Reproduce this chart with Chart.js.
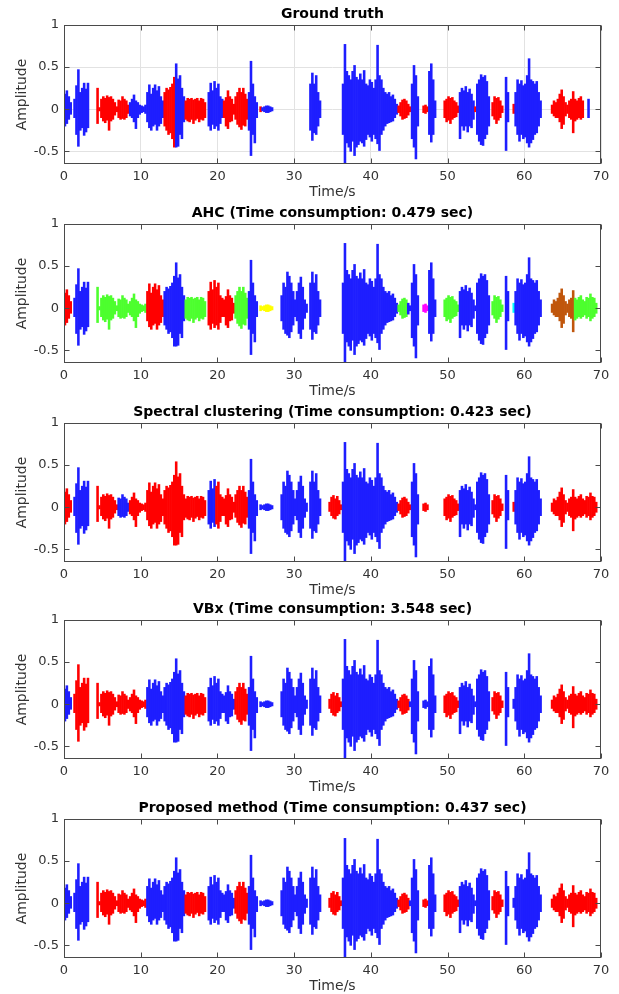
<!DOCTYPE html>
<html><head><meta charset="utf-8">
<script src="https://cdn.jsdelivr.net/npm/chart.js@4.4.1/dist/chart.umd.min.js"></script>
<style>
html,body{margin:0;padding:0;background:#fff;}
#wrap{position:relative;width:619px;height:994px;overflow:hidden;background:#fff;}
#wrap canvas{position:absolute;left:0;}
</style></head><body><div id="wrap"></div>
<script>
// ---------- DATA ----------
const binWidth = 0.25; // seconds per envelope bin
// waveform peak envelope (upper) per 0.25 s bin
const envHigh = [
 0.18,0.22,0.15,0.08,null,0.12,0.28,0.47,0.2,0.25,0.31,0.24,0.31,null,null,null,null,0.25,0.02,0.12,
 0.15,0.13,0.16,0.14,0.15,0.12,0.08,0.03,0.11,0.1,0.15,0.12,0.1,0.05,0.08,0.12,0.17,0.1,0.08,0.05,
 0.04,0.03,0.05,0.2,0.29,0.18,0.25,0.29,0.22,0.27,0.15,0.1,0.2,0.25,0.23,0.26,0.3,0.38,0.54,0.36,
 0.4,0.25,0.15,0.1,0.13,0.12,0.13,0.11,0.12,0.13,0.1,0.13,0.12,0.08,null,0.2,0.31,0.22,0.33,0.25,
 0.3,0.15,0.12,0.1,0.14,0.22,0.15,0.12,0.06,0.15,0.2,0.25,0.2,0.25,0.18,0.12,0.2,0.57,0.3,0.15,
 0.08,null,0.03,0.02,0.03,0.04,0.04,0.03,0.02,null,null,null,null,0.15,0.3,0.25,0.43,0.38,0.3,0.2,
 0.1,0.2,0.3,0.37,0.25,0.1,0.05,null,0.3,0.43,0.3,0.4,0.2,0.1,null,null,null,null,0.06,0.12,
 0.14,0.1,0.13,0.08,0.03,0.3,0.77,0.45,0.4,0.35,0.45,0.52,0.38,0.35,0.42,0.35,0.46,0.3,0.28,0.35,
 0.32,0.25,0.35,0.76,0.4,0.35,0.25,0.2,0.18,0.2,0.15,0.17,0.12,0.06,0.04,0.08,0.11,0.12,0.1,0.06,
 0.03,0.3,0.52,0.4,0.15,null,null,0.04,0.05,0.03,0.45,0.54,0.35,0.1,null,null,null,null,0.1,0.12,
 0.15,0.13,0.14,0.1,0.08,0.04,0.2,0.25,0.22,0.27,0.2,0.24,0.18,0.1,0.03,0.3,0.35,0.41,0.38,0.4,
 0.33,0.15,null,0.08,0.15,0.13,0.14,0.1,0.04,null,0.38,0.2,null,null,0.06,0.2,0.35,0.3,0.34,0.28,
 0.3,0.4,0.6,0.35,0.33,0.3,0.33,0.2,0.1,null,null,null,null,null,0.05,0.1,0.08,0.12,0.18,0.23,
 0.15,0.08,0.05,0.1,0.12,0.21,0.12,0.1,0.13,0.15,0.1,0.08,0.13,0.12,0.17,0.13,0.12,0.06,null,null
];
// waveform peak envelope (lower) per 0.25 s bin
const envLow = [
 -0.2,-0.17,-0.12,-0.06,null,-0.1,-0.3,-0.44,-0.25,-0.22,-0.31,-0.27,-0.22,null,null,null,null,-0.17,-0.02,-0.1,
 -0.14,-0.16,-0.13,-0.25,-0.14,-0.12,-0.07,-0.03,-0.1,-0.12,-0.11,-0.12,-0.1,-0.05,-0.08,-0.1,-0.15,-0.23,-0.1,-0.06,
 -0.04,-0.03,-0.05,-0.15,-0.22,-0.25,-0.2,-0.18,-0.25,-0.2,-0.17,-0.1,-0.2,-0.25,-0.3,-0.28,-0.35,-0.45,-0.45,-0.44,
 -0.3,-0.35,-0.15,-0.12,-0.14,-0.15,-0.12,-0.17,-0.13,-0.11,-0.15,-0.12,-0.13,-0.1,null,-0.2,-0.25,-0.18,-0.23,-0.2,
 -0.25,-0.17,-0.1,-0.1,-0.2,-0.23,-0.15,-0.14,-0.06,-0.12,-0.18,-0.21,-0.24,-0.19,-0.2,-0.12,-0.25,-0.55,-0.3,-0.4,
 -0.1,null,-0.03,-0.02,-0.03,-0.04,-0.04,-0.03,-0.02,null,null,null,null,-0.15,-0.25,-0.3,-0.32,-0.35,-0.28,-0.2,
 -0.1,-0.15,-0.3,-0.36,-0.25,-0.12,-0.05,null,-0.25,-0.37,-0.28,-0.3,-0.2,-0.1,null,null,null,null,-0.05,-0.1,
 -0.13,-0.14,-0.1,-0.08,-0.03,-0.3,-0.65,-0.4,-0.45,-0.5,-0.38,-0.55,-0.45,-0.42,-0.38,-0.4,-0.44,-0.36,-0.3,-0.33,
 -0.38,-0.3,-0.35,-0.41,-0.49,-0.3,-0.25,-0.2,-0.17,-0.16,-0.15,-0.14,-0.1,-0.06,-0.04,-0.08,-0.12,-0.11,-0.1,-0.07,
 -0.03,-0.35,-0.45,-0.59,-0.2,null,null,-0.04,-0.05,-0.03,-0.3,-0.39,-0.3,-0.1,null,null,null,null,-0.1,-0.15,
 -0.13,-0.17,-0.12,-0.1,-0.09,-0.04,-0.35,-0.2,-0.25,-0.2,-0.27,-0.2,-0.22,-0.12,-0.03,-0.3,-0.38,-0.42,-0.43,-0.35,
 -0.3,-0.2,null,-0.08,-0.12,-0.17,-0.13,-0.1,-0.04,null,-0.49,-0.15,null,null,-0.05,-0.2,-0.3,-0.38,-0.3,-0.35,
 -0.33,-0.4,-0.45,-0.4,-0.36,-0.3,-0.28,-0.2,-0.1,null,null,null,null,null,-0.05,-0.08,-0.1,-0.1,-0.15,-0.23,
 -0.18,-0.08,-0.05,-0.1,-0.12,-0.28,-0.14,-0.12,-0.1,-0.12,-0.1,-0.08,-0.12,-0.1,-0.15,-0.12,-0.1,-0.06,null,null
];
const xTicks = [0,10,20,30,40,50,60,70];
const yTicks = [-0.5,0,0.5,1];
const panelTitles = [
 'Ground truth',
 'AHC (Time consumption: 0.479 sec)',
 'Spectral clustering (Time consumption: 0.423 sec)',
 'VBx (Time consumption: 3.548 sec)',
 'Proposed method (Time consumption: 0.437 sec)'
];
// speaker segments: [cluster, start s, end s]
const segGroundTruth = [
 ['B',0,1.0],['B',1.25,3.25],['R',4.25,8.5],['B',8.5,10.75],['B',10.75,13.0],['R',13.0,14.5],['B',14.5,15.75],
 ['R',15.75,18.5],['B',18.75,20.75],['R',20.75,24.0],['B',24.0,25.25],['R',25.5,25.75],['B',25.75,27.25],
 ['B',32.0,33.5],['B',36.25,43.5],['R',43.5,45.25],['B',45.25,46.25],['R',46.75,47.5],['B',47.5,48.5],
 ['R',49.25,51.5],['B',51.5,53.5],['R',53.5,53.75],['B',53.75,55.5],['R',55.75,57.25],['B',57.5,58.0],
 ['R',58.5,58.75],['B',58.75,62.25],['R',63.5,67.75],['B',68.25,68.5]
];
const segAHC = [
 ['R',0,1.0],['B',1.25,3.25],['G',4.25,10.75],['R',10.75,13.0],['B',13.0,15.75],['G',15.75,18.5],
 ['R',18.75,22.25],['G',22.25,24.0],['B',24.0,25.25],['Y',25.5,27.25],['B',28.25,33.5],['B',36.25,43.5],
 ['G',43.5,44.75],['B',44.75,46.25],['M',46.75,47.5],['B',47.5,48.5],['G',49.25,51.5],['B',51.5,55.5],
 ['G',55.75,57.25],['B',57.5,58.0],['C',58.5,58.75],['B',58.75,62.25],['O',63.5,66.5],['G',66.5,69.5]
];
const segSpectral = [
 ['R',0,1.0],['B',1.25,3.25],['R',4.25,7.0],['B',7.0,8.5],['R',8.5,18.5],['B',18.75,19.75],['R',19.75,24.0],
 ['B',24.0,25.25],['B',25.5,27.25],['B',28.25,33.5],['R',34.5,36.25],['B',36.25,43.5],['R',43.5,45.25],
 ['B',45.25,46.25],['R',46.75,47.5],['R',49.25,51.5],['B',51.5,55.5],['R',55.75,57.25],['B',57.5,58.0],
 ['R',58.5,58.75],['B',58.75,62.25],['R',63.5,69.5]
];
const segVBx = [
 ['B',0,1.0],['R',1.25,3.25],['R',4.25,10.75],['B',10.75,15.75],['R',15.75,18.5],['B',18.75,22.25],
 ['R',22.25,24.0],['B',24.0,25.25],['B',25.5,27.25],['B',28.25,33.5],['R',34.5,36.25],['B',36.25,43.5],
 ['R',43.5,45.0],['B',45.0,46.25],['B',46.75,47.5],['B',47.5,48.5],['R',49.25,51.5],['B',51.5,55.5],
 ['R',55.75,57.25],['B',57.5,58.0],['B',58.5,58.75],['B',58.75,62.25],['R',63.5,69.5]
];
const segProposed = [
 ['B',0,1.0],['B',1.25,3.25],['R',4.25,10.75],['B',10.75,15.75],['R',15.75,18.5],['B',18.75,22.25],
 ['R',22.25,24.0],['B',24.0,25.25],['B',25.5,27.25],['B',28.25,33.5],['R',34.5,36.25],['B',36.25,43.5],
 ['R',43.5,45.0],['B',45.0,46.25],['R',46.75,47.5],['B',47.5,48.5],['R',49.25,51.5],['B',51.5,55.5],
 ['R',55.75,57.25],['B',57.5,58.0],['B',58.5,58.75],['B',58.75,62.25],['R',63.5,69.5]
];
const panelSegments = [segGroundTruth, segAHC, segSpectral, segVBx, segProposed];

// ---------- STYLE / LAYOUT ----------
const clusterColors = {B:'#1e1eff', R:'#ff0000', G:'#4dff2e', Y:'#ffff00', M:'#ff00ff', C:'#00ffff', O:'#c0560c'};
const canvasTops = [0, 199, 398, 595, 794];
const CW = 619, CH = 204;
const FONT = '"DejaVu Sans", "Liberation Sans", sans-serif';

const axesFrame = {
  id: 'axesFrame',
  afterDatasetsDraw(chart) {
    const {ctx, chartArea: a, scales: {x, y}} = chart;
    const L = Math.round(a.left) + 0.5, R = Math.round(a.right) - 0.5;
    const T = Math.round(a.top) + 0.5, B = Math.round(a.bottom) - 0.5;
    ctx.save();
    ctx.strokeStyle = '#4a4a4a';
    ctx.lineWidth = 1;
    ctx.beginPath();
    const tl = 5;
    xTicks.forEach(v => {
      const px = Math.round(x.getPixelForValue(v)) + 0.5;
      ctx.moveTo(px, B); ctx.lineTo(px, B - tl);
      ctx.moveTo(px, T); ctx.lineTo(px, T + tl);
    });
    yTicks.forEach(v => {
      const py = Math.round(y.getPixelForValue(v)) + 0.5;
      ctx.moveTo(L, py); ctx.lineTo(L + tl, py);
      ctx.moveTo(R, py); ctx.lineTo(R - tl, py);
    });
    ctx.stroke();
    ctx.strokeRect(L, T, R - L, B - T);
    ctx.restore();
  }
};

function buildPanel(segs) {
  const pts = [], cols = [];
  for (let i = 0; i < envHigh.length; i++) {
    if (envHigh[i] === null) continue;
    const t = i * binWidth + binWidth / 2;
    const seg = segs.find(s => t >= s[1] && t < s[2]);
    if (!seg) continue;
    pts.push({x: t, y: [envLow[i], envHigh[i]]});
    cols.push(clusterColors[seg[0]]);
  }
  return {pts, cols};
}

const wrap = document.getElementById('wrap');
panelSegments.forEach((segs, idx) => {
  const cv = document.createElement('canvas');
  cv.width = CW; cv.height = CH;
  cv.style.width = CW + 'px'; cv.style.height = CH + 'px';
  cv.style.top = canvasTops[idx] + 'px';
  wrap.appendChild(cv);
  const {pts, cols} = buildPanel(segs);
  const showGrid = idx === 0;
  new Chart(cv.getContext('2d'), {
    type: 'bar',
    data: {datasets: [{
      data: pts, backgroundColor: cols, borderWidth: 0,
      barPercentage: 1, categoryPercentage: 1, grouped: false
    }]},
    options: {
      responsive: false, animation: false, devicePixelRatio: 1,
      layout: {padding: {left: 0, right: 18, top: 0, bottom: 0}},
      plugins: {
        legend: {display: false}, tooltip: {enabled: false},
        title: {display: true, text: panelTitles[idx], fullSize: false, color: '#000',
          font: {family: FONT, size: 14, weight: 'bold'}, padding: {top: 5.6, bottom: 2.6}}
      },
      scales: {
        x: {
          type: 'linear', min: 0, max: 70, offset: false,
          afterBuildTicks: s => { s.ticks = xTicks.map(v => ({value: v})); },
          afterFit: s => { s.height = 40; s.paddingLeft = 0; s.paddingRight = 0; },
          ticks: {color: '#333', font: {family: FONT, size: 13}, padding: 5, maxRotation: 0, callback: v => String(v)},
          grid: {display: showGrid, drawOnChartArea: true, drawTicks: false, color: '#e2e2e2', offset: false},
          border: {display: false},
          title: {display: true, text: 'Time/s', color: '#333', font: {family: FONT, size: 14}, padding: {top: 0, bottom: 2.9}}
        },
        y: {
          min: -0.65, max: 1,
          afterBuildTicks: s => { s.ticks = yTicks.map(v => ({value: v})); },
          afterFit: s => { s.width = 64; s.paddingTop = 0; s.paddingBottom = 0; },
          ticks: {color: '#333', font: {family: FONT, size: 13}, padding: 5, callback: v => String(v)},
          grid: {display: showGrid, drawOnChartArea: true, drawTicks: false, color: '#e2e2e2'},
          border: {display: false},
          title: {display: true, text: 'Amplitude', color: '#333', font: {family: FONT, size: 14}, padding: {top: 14.1, bottom: 0}}
        }
      }
    },
    plugins: [axesFrame]
  });
});
</script></body></html>
